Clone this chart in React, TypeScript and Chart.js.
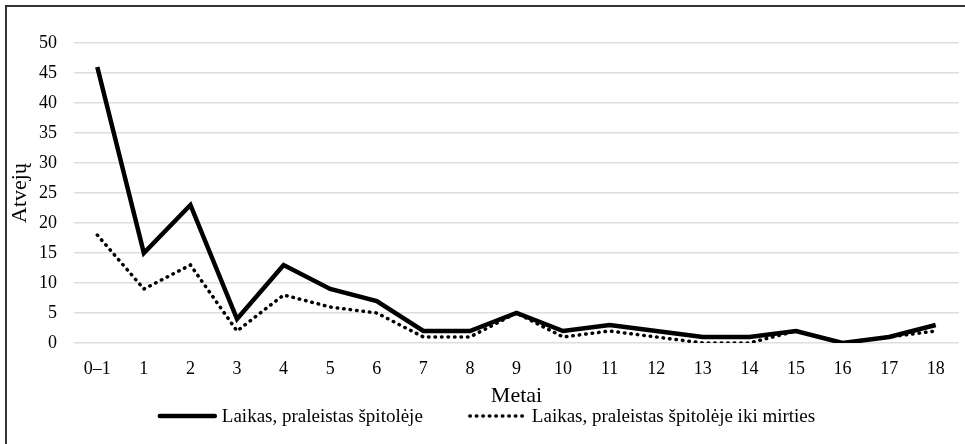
import React, { useEffect, useRef } from 'react';
import { Chart, registerables } from 'chart.js';

Chart.register(...registerables);

const categories = ['0–1', '1', '2', '3', '4', '5', '6', '7', '8', '9', '10', '11', '12', '13', '14', '15', '16', '17', '18'];
const timeInHospital = [46, 15, 23, 4, 13, 9, 7, 2, 2, 5, 2, 3, 2, 1, 1, 2, 0, 1, 3];
const timeInHospitalUntilDeath = [18, 9, 13, 2, 8, 6, 5, 1, 1, 5, 1, 2, 1, 0, 0, 2, 0, 1, 2];
const seriesLabels = ['Laikas, praleistas špitolėje', 'Laikas, praleistas špitolėje iki mirties'];
const yMin = 0;
const yMax = 50;
const yStep = 5;
const xTitle = 'Metai';
const yTitle = 'Atvejų';

const FONT = "'Liberation Serif', 'Times New Roman', serif";

const legendPlugin = {
  id: 'bottomLegend',
  afterDraw(chart: any) {
    const ctx = chart.ctx;
    ctx.save();
    ctx.font = `19px ${FONT}`;
    const lineLen = 55;
    const textGap = 7;
    const itemGap = 47;
    const items = chart.data.datasets.map((ds: any) => ({ ds, w: ctx.measureText(ds.label).width }));
    const total =
      items.reduce((s: number, it: any) => s + lineLen + textGap + it.w, 0) + itemGap * (items.length - 1);
    let x = chart.width / 2 + 5 - total / 2;
    const y = 416;
    items.forEach(({ ds, w }: any) => {
      ctx.beginPath();
      ctx.lineWidth = ds.borderWidth;
      ctx.strokeStyle = ds.borderColor;
      ctx.setLineDash(ds.borderDash || []);
      ctx.lineCap = 'round';
      ctx.moveTo(x, y);
      ctx.lineTo(x + lineLen, y);
      ctx.stroke();
      ctx.setLineDash([]);
      ctx.fillStyle = '#000';
      ctx.textBaseline = 'middle';
      ctx.textAlign = 'left';
      ctx.fillText(ds.label, x + lineLen + textGap, y + 1);
      x += lineLen + textGap + w + itemGap;
    });
    ctx.restore();
  },
};

export default function App() {
  const canvasRef = useRef<HTMLCanvasElement | null>(null);

  useEffect(() => {
    if (!canvasRef.current) return;
    const chart = new Chart(canvasRef.current, {
      type: 'line',
      data: {
        labels: categories,
        datasets: [
          {
            label: seriesLabels[0],
            data: timeInHospital,
            borderColor: '#000',
            backgroundColor: '#000',
            borderWidth: 4.5,
            pointRadius: 0,
            tension: 0,
            borderJoinStyle: 'miter',
            order: 1,
          },
          {
            label: seriesLabels[1],
            data: timeInHospitalUntilDeath,
            borderColor: '#000',
            backgroundColor: '#000',
            borderWidth: 3.5,
            borderDash: [0.5, 6],
            borderCapStyle: 'round',
            pointRadius: 0,
            tension: 0,
            order: 0,
          },
        ],
      },
      options: {
        animation: false,
        responsive: true,
        maintainAspectRatio: false,
        layout: { padding: { top: 43, right: 6, bottom: 34.8, left: 0 } },
        plugins: {
          legend: { display: false },
          tooltip: { enabled: false },
        },
        scales: {
          x: {
            offset: true,
            grid: { display: false, drawTicks: false, offset: true },
            border: { display: false },
            ticks: { color: '#000', font: { family: FONT, size: 18 }, padding: 15, maxRotation: 0, autoSkip: false },
            title: {
              display: true,
              text: xTitle,
              color: '#000',
              font: { family: FONT, size: 22 },
              padding: { top: 0, bottom: 0 },
            },
            afterFit: (scale: any) => {
              scale.height = 66.2;
            },
          },
          y: {
            min: yMin,
            max: yMax,
            grid: { color: '#dedede', lineWidth: 1.5, drawTicks: false },
            border: { display: false },
            ticks: { stepSize: yStep, color: '#000', font: { family: FONT, size: 18 }, padding: 17 },
            title: {
              display: true,
              text: yTitle,
              color: '#000',
              font: { family: FONT, size: 22 },
              padding: { top: 7, bottom: 0 },
            },
            afterFit: (scale: any) => {
              scale.width = 74;
            },
          },
        },
      },
      plugins: [legendPlugin],
    } as any);
    return () => chart.destroy();
  }, []);

  return (
    <div style={{ position: 'fixed', left: 0, top: 0, width: 965, height: 444, overflow: 'hidden', background: '#fff' }}>
      <div
        style={{
          position: 'absolute',
          left: 5,
          top: 5,
          width: 980,
          height: 460,
          borderTop: '2px solid #333',
          borderLeft: '2px solid #333',
          boxSizing: 'border-box',
          pointerEvents: 'none',
        }}
      />
      <canvas ref={canvasRef} />
    </div>
  );
}
